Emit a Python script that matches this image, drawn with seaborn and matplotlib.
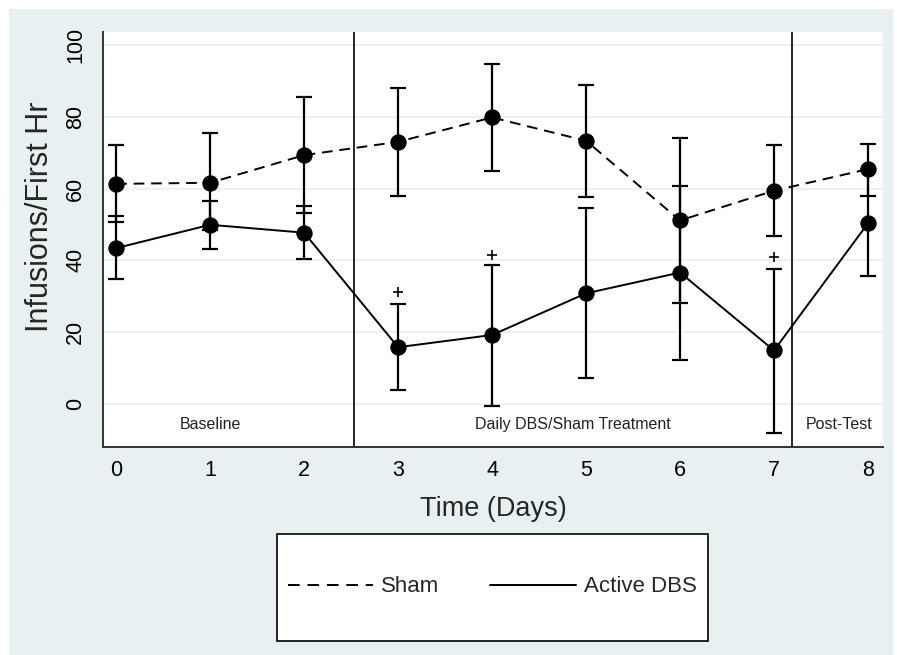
import numpy as np
import pandas as pd
import matplotlib
matplotlib.use("Agg")
import matplotlib.pyplot as plt
import matplotlib.patches as patches
from matplotlib.lines import Line2D
import seaborn as sns

# values
days = [0, 1, 2, 3, 4, 5, 6, 7, 8]
sham_mean = [61.3, 61.6, 69.3, 73.0, 79.8, 73.3, 51.1, 59.4, 65.4]
sham_lo = [50.6, 48.4, 53.1, 57.9, 64.9, 57.6, 28.2, 46.8, 58.0]
sham_hi = [72.2, 75.6, 85.6, 87.9, 94.6, 88.9, 74.0, 72.1, 72.3]
dbs_mean = [43.4, 49.9, 47.7, 15.8, 19.2, 30.8, 36.6, 14.9, 50.3]
dbs_lo = [34.9, 43.2, 40.5, 3.9, -0.7, 7.1, 12.3, -8.0, 35.5]
dbs_hi = [52.3, 56.5, 55.1, 27.9, 38.7, 54.5, 60.8, 37.5, 65.1]
sig_days = [3, 4, 7]
sig_y = [31.2, 41.5, 40.8]
phase_breaks = [2.53, 7.19]
phase_labels = ["Baseline", "Daily DBS/Sham Treatment", "Post-Test"]
phase_x = [1.0, 4.86, 7.69]

sns.set_style("white")
plt.rcParams['font.family'] = ['Liberation Sans', 'DejaVu Sans']

df = pd.DataFrame({
    "day": days * 2,
    "val": sham_mean + dbs_mean,
    "grp": ["Sham"] * 9 + ["Active DBS"] * 9,
})

fig = plt.figure(figsize=(8.97, 6.55), dpi=100, facecolor="white")
# stata-like background panel
fig.patches.append(patches.Rectangle((9 / 897, 0), 884 / 897, 646 / 655,
                                     transform=fig.transFigure, facecolor="#e9f0f2",
                                     edgecolor="none", zorder=-5))
ax = fig.add_axes([103 / 897, 1 - 447 / 655, 780 / 897, 415 / 655])
ax.set_zorder(2)
ax.set_facecolor("white")

for y in [0, 20, 40, 60, 80, 100]:
    ax.axhline(y, color="#e6eff1", lw=1.2, zorder=0)

sns.lineplot(data=df, x="day", y="val", style="grp", ax=ax,
             dashes={"Sham": (5.5, 3.5), "Active DBS": ""},
             markers={"Sham": "o", "Active DBS": "o"},
             color="black", lw=1.4, markersize=11, markeredgecolor="black",
             legend=False, zorder=3)

ax.errorbar(days, sham_mean,
            yerr=[np.array(sham_mean) - np.array(sham_lo), np.array(sham_hi) - np.array(sham_mean)],
            fmt="none", ecolor="black", elinewidth=1.6, capsize=6, capthick=1.6, zorder=2)
ax.errorbar(days, dbs_mean,
            yerr=[np.array(dbs_mean) - np.array(dbs_lo), np.array(dbs_hi) - np.array(dbs_mean)],
            fmt="none", ecolor="black", elinewidth=1.6, capsize=6, capthick=1.6, zorder=2)
ax.scatter(sig_days, sig_y, marker="+", color="black", s=60, lw=1.2, zorder=3)

for xb in phase_breaks:
    ax.axvline(xb, color="black", lw=1.2, zorder=1)
for xt, lab in zip(phase_x, phase_labels):
    ax.text(xt, -5.6, lab, ha="center", va="center", fontsize=11.5, color="#222222")

ax.set_xlim(-0.14, 8.16)
ax.set_ylim(-12, 103.6)
ax.set_xticks(days)
ax.set_yticks([0, 20, 40, 60, 80, 100])
ax.tick_params(axis="both", direction="out", length=6, width=1.2, labelsize=15.5, colors="black")
ax.tick_params(axis="y", labelrotation=90, pad=6)
for lab in ax.get_yticklabels():
    lab.set_va("center")
ax.set_xlabel("Time (Days)", fontsize=19.5, labelpad=11)
ax.set_ylabel("Infusions/First Hr", fontsize=22, va="center")
ax.yaxis.set_label_coords(-0.081, 0.554)
sns.despine(ax=ax)
for s in ["left", "bottom"]:
    ax.spines[s].set_color("#333333")
    ax.spines[s].set_linewidth(1.4)

# legend box
fig.patches.append(patches.Rectangle((277 / 897, 1 - 641 / 655), 431 / 897, 107 / 655,
                                     transform=fig.transFigure, facecolor="white",
                                     edgecolor="black", lw=1.2, zorder=-1))
handles = [Line2D([], [], color="black", ls=(0, (6, 4)), lw=1.4),
           Line2D([], [], color="black", ls="-", lw=1.4)]
fig.legend(handles, ["Sham", "Active DBS"], ncol=2, frameon=False, fontsize=16,
           loc="center", bbox_to_anchor=(492 / 897, 1 - 587 / 655),
           handlelength=3.85, handletextpad=0.35, columnspacing=2.3)

fig.savefig("out.png", dpi=100, facecolor=fig.get_facecolor())
